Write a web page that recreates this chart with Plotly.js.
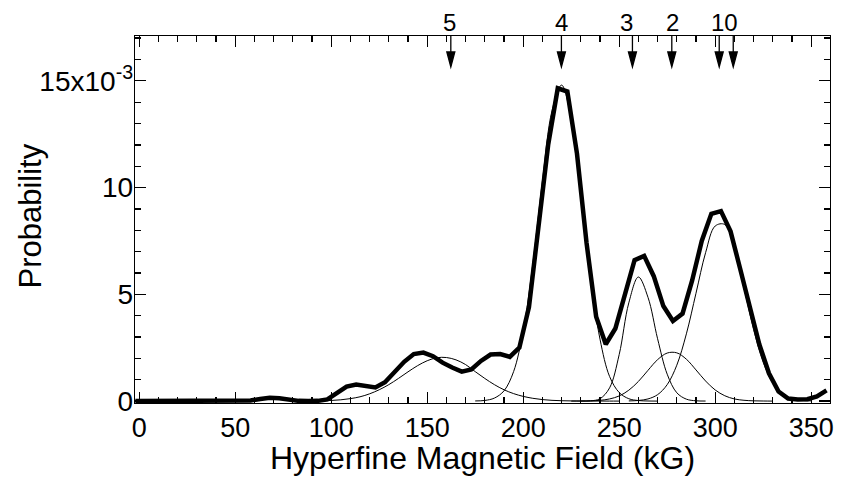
<!DOCTYPE html>
<html>
<head>
<meta charset="utf-8">
<script src="https://cdn.plot.ly/plotly-3.0.1.min.js"></script>
<style>html,body{margin:0;padding:0;background:#fff;}</style>
</head>
<body>
<div id="chart" style="width:842px;height:496px;"></div>
<script>
// Measured distribution (thick line), probability in units of 1e-3
var fieldData = [-2,3,8,13,18,23,28,33,38,43,48,53,58,63,68,73,78,83,88,93,98,
  103,108,113,118,123,128,133,138,143,148,153,158,163,168,173,178,183,188,193,198,
  203,208,213,218,223,228,233,238,243,248,253,258,263,268,273,278,283,288,293,298,
  303,308,313,318,323,328,333,338,343,348,353,358];
var probData = [0,0,0,0,0,0,0,0,0,0,0,0,0.03,0.1,0.16,0.13,0.05,0.01,0,0.01,0.08,
  0.35,0.68,0.78,0.72,0.64,0.88,1.35,1.84,2.2,2.27,2.1,1.8,1.57,1.38,1.48,1.88,2.18,2.2,2.07,2.5,
  4.4,8.3,12.0,14.65,14.5,11.6,7.4,3.95,2.66,3.4,5.1,6.6,6.8,5.85,4.45,3.75,4.1,5.65,7.5,8.77,
  8.9,7.95,6.2,4.4,2.65,1.3,0.45,0.12,0.07,0.09,0.22,0.5];

// Fitted components (thin lines)
var fieldC5 = [85,90,95,100,105,110,115,120,125,130,135,140,145,150,155,160,165,170,175,180,185,190,195,200,205,210,215,220,225,230,235,240,245,250];
var probC5  = [0.003,0.006,0.014,0.03,0.06,0.115,0.2,0.34,0.53,0.77,1.06,1.37,1.66,1.89,2.03,2.04,1.93,1.71,1.38,1.06,0.77,0.53,0.35,0.22,0.13,0.07,0.035,0.017,0.008,0.004,0.002,0.001,0,0];
var fieldC4 = [175,180,185,190,195,200,205,210,215,220,225,230,235,240,245,250,255,260,265,270];
var probC4  = [0.006,0.03,0.14,0.48,1.38,3.29,6.42,10.3,13.6,14.8,13.2,9.7,5.85,2.9,1.15,0.4,0.11,0.025,0.004,0];
var fieldC3 = [225,230,235,240,245,250,255,260,265,270,275,280,285,290,295];
var probC3  = [0,0.002,0.011,0.11,0.62,2.18,4.6,5.81,4.86,2.92,1.26,0.39,0.09,0.014,0.002];
var fieldC2 = [230,235,240,245,250,255,260,265,270,275,280,285,290,295,300,305,310,315,320,325,330];
var probC2  = [0.003,0.011,0.035,0.1,0.24,0.51,0.92,1.44,1.94,2.25,2.26,1.96,1.46,0.94,0.52,0.25,0.1,0.037,0.011,0.003,0];
var fieldC10 = [255,260,265,270,275,280,285,290,295,300,305,310,315,320,325,330,335,340,345,350];
var probC10  = [0.007,0.029,0.1,0.3,0.77,1.68,3.15,5.05,6.95,8.2,8.27,7.15,5.3,3.36,1.82,0.85,0.34,0.115,0.034,0.008];

// Arrow markers at top
var arrowFields = [162.3, 219.9, 256.9, 277.4, 302.1, 309.4];
var labelTexts  = ['5', '4', '3', '2', '10'];
var labelFields = [161.8, 219.9, 254.0, 277.8, 304.7];

// Axis ticks and titles
var yTickVals = [0, 5, 10, 15];
var yTickText = ['0', '5', '10', '15x10<sup>-3</sup>'];
var xTitle = 'Hyperfine Magnetic Field (kG)';
var yTitle = 'Probability';

var FONT = 'Liberation Sans, Arial, Helvetica, sans-serif';

function thin(x, y) {
  return {x: x, y: y, type: 'scatter', mode: 'lines',
    line: {color: 'black', width: 1, shape: 'spline', smoothing: 1},
    hoverinfo: 'skip'};
}

var traces = [
  thin(fieldC5, probC5), thin(fieldC4, probC4), thin(fieldC3, probC3),
  thin(fieldC2, probC2), thin(fieldC10, probC10),
  {x: fieldData, y: probData, type: 'scatter', mode: 'lines',
   line: {color: 'black', width: 4.5}, hoverinfo: 'skip'}
];

var shapes = arrowFields.map(function (f) {
  return {type: 'path', xref: 'x', yref: 'paper',
    xsizemode: 'pixel', ysizemode: 'pixel', xanchor: f, yanchor: 1,
    path: 'M0,0L0,-16M-4,-16L4,-16L0,-31Z',
    fillcolor: 'black', line: {color: 'black', width: 1.3}};
});

var annotations = labelTexts.map(function (t, i) {
  return {x: labelFields[i], y: 1, xref: 'x', yref: 'paper', text: t,
    showarrow: false, xanchor: 'center', yanchor: 'bottom', yshift: -2,
    font: {family: FONT, size: 24, color: 'black'}};
});
annotations.push({x: 0.5, y: 0, xref: 'paper', yref: 'paper', text: xTitle,
  showarrow: false, xanchor: 'center', yanchor: 'middle', yshift: -55,
  font: {family: FONT, size: 32, color: 'black'}});
annotations.push({x: 0, y: 0.5, xref: 'paper', yref: 'paper', text: yTitle,
  showarrow: false, xanchor: 'center', yanchor: 'middle', xshift: -105, yshift: 3,
  textangle: -90, font: {family: FONT, size: 31, color: 'black'}});

var axisCommon = {
  showgrid: false, zeroline: false, showline: true, linecolor: 'black', linewidth: 1.3,
  mirror: 'allticks', ticks: 'inside', tickcolor: 'black', tickwidth: 1.3, ticklen: 11
};

var layout = {
  width: 842, height: 496,
  margin: {l: 135, r: 12, t: 36, b: 93, pad: 0},
  paper_bgcolor: 'white', plot_bgcolor: 'white',
  showlegend: false,
  font: {family: FONT, color: 'black'},
  xaxis: Object.assign({}, axisCommon, {
    range: [-2.2, 359.8], tick0: 0, dtick: 50,
    minor: {dtick: 10, ticks: 'inside', ticklen: 6, tickwidth: 1.3, tickcolor: 'black'},
    tickfont: {family: FONT, size: 27}
  }),
  yaxis: Object.assign({}, axisCommon, {
    range: [-0.09, 17.1], tickmode: 'array', tickvals: yTickVals, ticktext: yTickText,
    minor: {dtick: 1, tick0: 0, ticks: 'inside', ticklen: 6, tickwidth: 1.3, tickcolor: 'black'},
    tickfont: {family: FONT, size: 28},
    ticklabelstandoff: -5
  }),
  shapes: shapes,
  annotations: annotations
};

Plotly.newPlot('chart', traces, layout, {staticPlot: true, displayModeBar: false});
</script>
</body>
</html>
